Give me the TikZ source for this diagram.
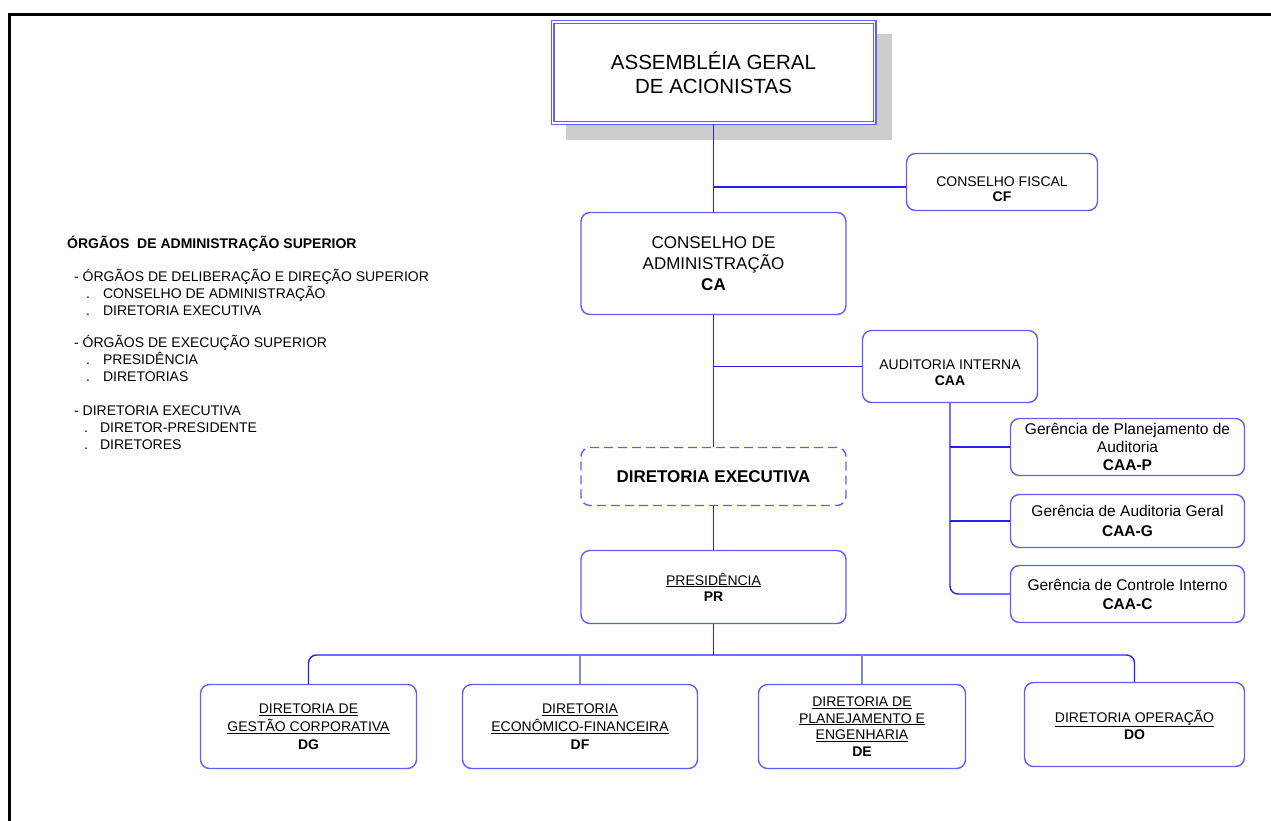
\documentclass[tikz,border=0pt]{standalone}
\usepackage{fontspec}
\setmainfont{Liberation Sans}
\usetikzlibrary{calc}

\definecolor{lineblue}{RGB}{35,35,235}
\definecolor{boxblue}{RGB}{95,95,250}
\definecolor{dropblue}{RGB}{125,140,200}
\definecolor{shadowgray}{RGB}{205,205,205}

\newcommand{\orgfont}[2]{\fontsize{#1}{#2}\selectfont}

\tikzset{
  unitbox/.style={draw=boxblue, line width=1.4pt, rounded corners=9pt, fill=white,
    inner sep=0pt, align=center, font=\orgfont{14}{17}},
  dashbox/.style={unitbox, dash pattern=on 9pt off 5pt},
  agabox/.style={draw=boxblue, double, double distance=1.8pt, line width=1.1pt, fill=white,
    inner sep=0pt, align=center, font=\orgfont{20.5}{24}},
  link/.style={draw=lineblue, line width=1.4pt},
  drop/.style={draw=dropblue, line width=1.4pt},
  listtxt/.style={anchor=base west, inner sep=0pt, font=\orgfont{14}{17}}
}

\begin{document}
\begin{tikzpicture}[x=1pt, y=-1pt]
\useasboundingbox (0,0) rectangle (1271,821);

% frame
\draw[line width=3pt] (9.5,821) -- (9.5,15) -- (1271,15);

% assembleia geral
\fill[shadowgray] (566,34) rectangle (892,140);
\node[agabox, minimum width=322pt, minimum height=101pt] (aga) at (713.5,72.5)
  {ASSEMBLÉIA GERAL\\DE ACIONISTAS};

% conselhos
\node[unitbox, minimum width=191pt, minimum height=57pt] (cf) at (1002,182) {};
\node[font=\orgfont{14}{15}, align=center, inner sep=0pt] (cftxt) at ($(cf)+(0,7)$)
  {CONSELHO FISCAL\\\textbf{CF}};
\node[unitbox, minimum width=265pt, minimum height=102pt, font=\orgfont{17}{21}] (ca) at (713.5,263.5)
  {CONSELHO DE\\ADMINISTRAÇÃO\\\textbf{CA}};

% auditoria
\node[unitbox, minimum width=175pt, minimum height=72pt] (ai) at (950,366.5) {};
\node[font=\orgfont{14}{16}, align=center, inner sep=0pt] (aitxt) at ($(ai)+(0,6.5)$)
  {AUDITORIA INTERNA\\\textbf{CAA}};
\node[unitbox, minimum width=234pt, minimum height=57pt, font=\orgfont{15.5}{18}] (caap) at (1127.5,447)
  {Gerência de Planejamento de\\Auditoria\\\textbf{CAA-P}};
\node[unitbox, minimum width=234pt, minimum height=53pt, font=\orgfont{15.5}{20}] (caag) at (1127.5,521)
  {Gerência de Auditoria Geral\\\textbf{CAA-G}};
\node[unitbox, minimum width=234pt, minimum height=57pt, font=\orgfont{15.5}{19}] (caac) at (1127.5,594)
  {Gerência de Controle Interno\\\textbf{CAA-C}};

% diretoria executiva e presidencia
\node[dashbox, minimum width=265pt, minimum height=58pt, font=\orgfont{17}{20}\bfseries] (dex) at (713.5,476.5)
  {DIRETORIA EXECUTIVA};
\node[unitbox, minimum width=265pt, minimum height=73pt, font=\orgfont{14}{16}] (pr) at (713.5,587)
  {\underline{PRESIDÊNCIA}\\\textbf{PR}};

% diretorias
\node[unitbox, minimum width=216pt, minimum height=84pt, font=\orgfont{14}{18}] (dg) at (308.5,726.5)
  {\underline{DIRETORIA DE}\\\underline{GESTÃO CORPORATIVA}\\\textbf{DG}};
\node[unitbox, minimum width=235pt, minimum height=84pt, font=\orgfont{14}{18}] (df) at (580,726.5)
  {\underline{DIRETORIA}\\\underline{ECONÔMICO-FINANCEIRA}\\\textbf{DF}};
\node[unitbox, minimum width=207pt, minimum height=84pt, font=\orgfont{14}{16.7}] (dpe) at (862,726.5)
  {\underline{DIRETORIA DE}\\\underline{PLANEJAMENTO E}\\\underline{ENGENHARIA}\\\textbf{DE}};
\node[unitbox, minimum width=220pt, minimum height=84pt] (do) at (1134.5,724.5)
  {\underline{DIRETORIA OPERAÇÃO}\\\textbf{DO}};

% ligacoes
\draw[link] (aga.south) -- (ca.north);
\draw[link] ($(aga.south |- cf.west)+(0,5)$) -- ($(cf.west)+(0,5)$);
\draw[link] (ca.south) -- (dex.north);
\draw[link] (ca.south |- ai.west) -- (ai.west);
\draw[link, rounded corners=8pt] (ai.south) -- (ai.south |- caac.west) -- (caac.west);
\draw[link] (ai.south |- caap.west) -- (caap.west);
\draw[link] (ai.south |- caag.west) -- (caag.west);
\draw[link] (dex.south) -- (pr.north);
\coordinate (bus) at (713.5,655);
\draw[link] (pr.south) -- (pr.south |- bus);
\draw[link, rounded corners=8pt] (dg.north) -- (dg.north |- bus) -- (do.north |- bus) -- (do.north);
\draw[drop] (df.north) -- (df.north |- bus);
\draw[drop] (dpe.north) -- (dpe.north |- bus);

% orgaos de administracao superior
\node[listtxt, font=\orgfont{14}{17}\bfseries] (org0) at (67,248) {ÓRGÃOS\ \ DE ADMINISTRAÇÃO SUPERIOR};
\node[listtxt] (org1) at (74,281) {- ÓRGÃOS DE DELIBERAÇÃO E DIREÇÃO SUPERIOR};
\node[listtxt] (org2) at (86,298) {.\hspace{13pt}CONSELHO DE ADMINISTRAÇÃO};
\node[listtxt] (org3) at (86,315) {.\hspace{13pt}DIRETORIA EXECUTIVA};
\node[listtxt] (org4) at (74,347) {- ÓRGÃOS DE EXECUÇÃO SUPERIOR};
\node[listtxt] (org5) at (86,364) {.\hspace{13pt}PRESIDÊNCIA};
\node[listtxt] (org6) at (86,381) {.\hspace{13pt}DIRETORIAS};
\node[listtxt] (org7) at (74,415) {- DIRETORIA EXECUTIVA};
\node[listtxt] (org8) at (84,432) {.\hspace{12pt}DIRETOR-PRESIDENTE};
\node[listtxt] (org9) at (84,449) {.\hspace{12pt}DIRETORES};
\end{tikzpicture}
\end{document}
